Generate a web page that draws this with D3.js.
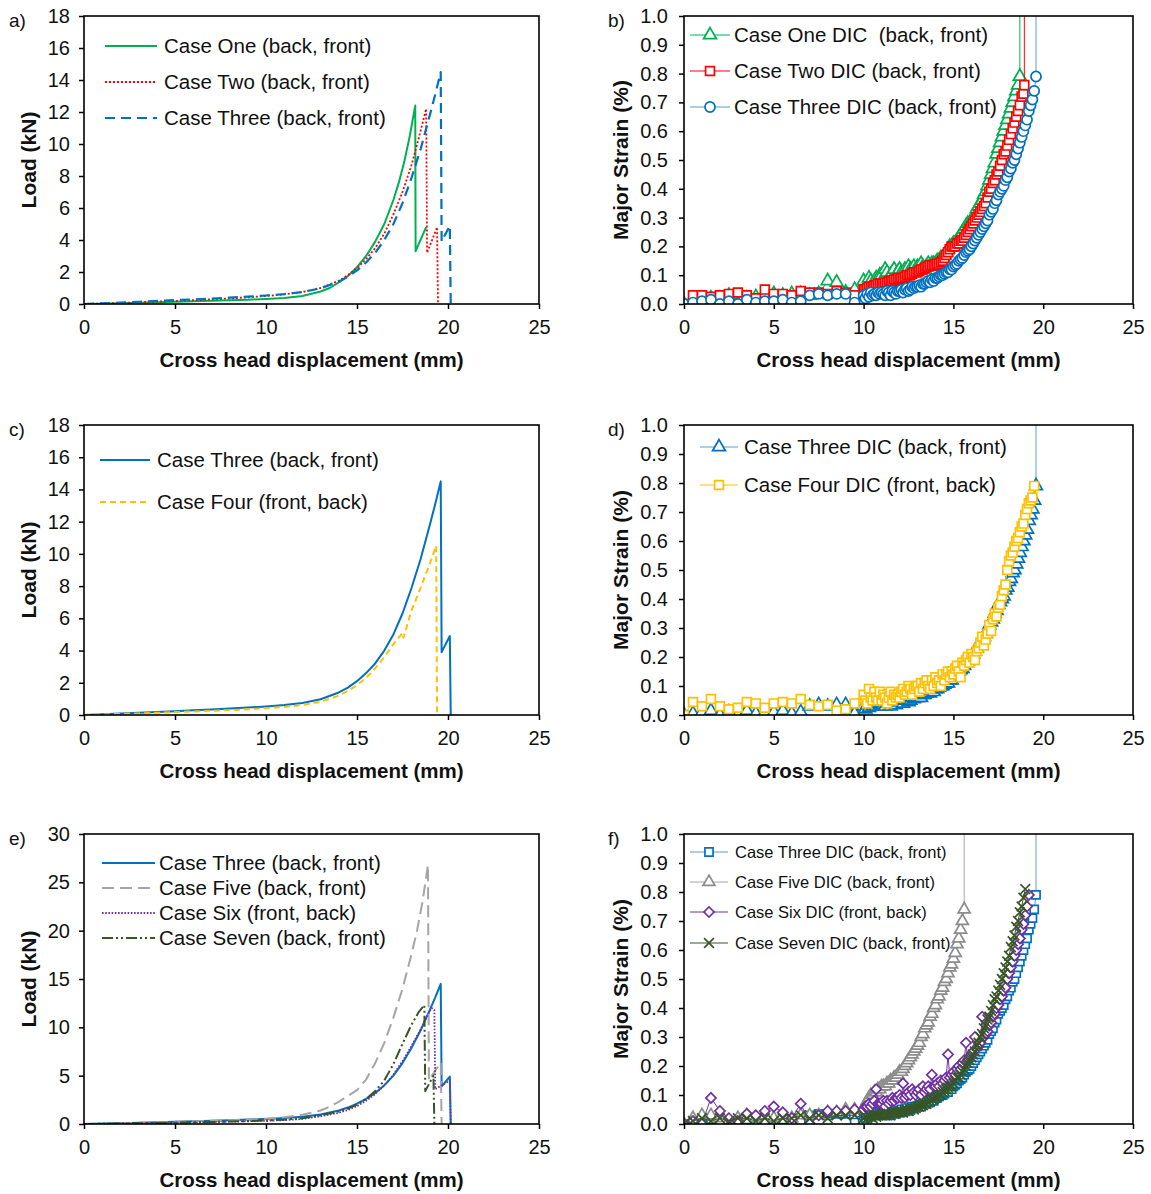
<!DOCTYPE html>
<html>
<head>
<meta charset="utf-8">
<script src="https://cdn.jsdelivr.net/npm/d3@7"></script>
<style>
  body { margin: 0; background: #fff; }
  svg text { font-family: "Liberation Sans", Arial, sans-serif; fill: #111; white-space: pre; }
</style>
</head>
<body>
<svg id="fig" width="1151" height="1194"></svg>
<script>
// ---------- axis ticks ----------
const dispTicks = [0, 5, 10, 15, 20, 25];
const loadTicksSmall = [0, 2, 4, 6, 8, 10, 12, 14, 16, 18];
const loadTicksLarge = [0, 5, 10, 15, 20, 25, 30];
const strainTicks = [0, 0.1, 0.2, 0.3, 0.4, 0.5, 0.6, 0.7, 0.8, 0.9, 1.0];

// ---------- load vs cross head displacement (kN vs mm) ----------
const caseOneLoadX = [0,1,2,3,4,5,6,7,8,9,10,11,12,13,13.5,14,14.5,15,15.5,16,16.5,17,17.3,17.6,17.9,18.2,18.22,18.8];
const caseOneLoadY = [0,0.02,0.05,0.08,0.11,0.14,0.17,0.2,0.23,0.27,0.32,0.38,0.5,0.78,1.0,1.35,1.75,2.3,3.0,3.9,5.0,6.5,7.6,8.9,10.5,12.4,3.3,4.8];

const caseTwoLoadX = [0,1,2,3,4,5,6,7,8,9,10,11,12,13,14,14.5,15,15.5,16,16.5,17,17.5,18,18.4,18.8,18.85,19.4,19.45];
const caseTwoLoadY = [0,0.03,0.07,0.11,0.15,0.19,0.24,0.29,0.35,0.42,0.5,0.6,0.75,1.0,1.45,1.8,2.25,2.8,3.5,4.4,5.6,7.0,8.7,10.4,12.2,3.2,4.8,0];

const caseThreeLoadX = [0,1,2,3,4,5,6,7,8,9,10,11,12,13,14,14.5,15,15.5,16,16.5,17,17.5,18,18.5,19,19.3,19.6,19.65,20.1,20.15];
const caseThreeLoadY = [0,0.04,0.09,0.14,0.19,0.24,0.29,0.34,0.4,0.46,0.53,0.62,0.75,0.98,1.4,1.7,2.1,2.6,3.2,4.0,5.0,6.3,7.9,9.7,11.8,13.1,14.5,3.9,4.9,0];

const caseFourLoadX = [0,1,2,3,4,5,6,7,8,9,10,11,12,13,14,14.5,15,15.5,16,16.5,17,17.5,17.55,18,18.5,19,19.35,19.4];
const caseFourLoadY = [0,0.03,0.07,0.1,0.14,0.18,0.22,0.26,0.3,0.35,0.42,0.5,0.62,0.82,1.2,1.5,1.85,2.3,2.9,3.6,4.4,5.1,4.8,6.5,7.9,9.4,10.5,0];

const caseFiveLoadX = [0,1,2,3,4,5,6,7,8,9,10,11,12,13,13.5,14,14.5,15,15.5,16,16.5,17,17.5,18,18.3,18.6,18.9,18.95,19.6,19.65];
const caseFiveLoadY = [0,0.04,0.08,0.13,0.18,0.23,0.28,0.33,0.39,0.45,0.55,0.7,0.95,1.4,1.8,2.3,2.9,3.5,4.6,6.3,8.4,11.0,14.0,17.6,20.0,23.0,26.8,4.5,6.4,0];

const caseSixLoadX = [0,1,2,3,4,5,6,7,8,9,10,11,12,13,14,14.5,15,15.5,16,16.5,17,17.5,18,18.5,18.8,19.1,19.25,19.3,20.1,20.15];
const caseSixLoadY = [0,0.02,0.05,0.08,0.11,0.14,0.17,0.2,0.24,0.28,0.33,0.4,0.52,0.8,1.15,1.45,1.85,2.4,3.1,4.0,5.1,6.5,8.1,9.8,11.0,12.0,11.8,3.6,4.5,0];

const caseSevenLoadX = [0,1,2,3,4,5,6,7,8,9,10,11,12,13,14,14.5,15,15.5,16,16.5,17,17.5,18,18.4,18.7,18.75,19.2,19.25];
const caseSevenLoadY = [0,0.02,0.05,0.08,0.11,0.14,0.17,0.21,0.25,0.3,0.36,0.45,0.6,0.9,1.3,1.6,2.0,2.6,3.4,4.5,6.2,8.3,10.3,11.6,12.3,3.4,5.0,0];

// ---------- DIC major strain (%) vs cross head displacement (mm) ----------
// capture positions: every 0.5 mm up to 9.5 mm, then every 0.1 mm
const dicGridX = [0,0.5,1,1.5,2,2.5,3,3.5,4,4.5,5,5.5,6,6.5,7,7.5,8,8.5,9,9.5,
  10,10.1,10.2,10.3,10.4,10.5,10.6,10.7,10.8,10.9,
  11,11.1,11.2,11.3,11.4,11.5,11.6,11.7,11.8,11.9,
  12,12.1,12.2,12.3,12.4,12.5,12.6,12.7,12.8,12.9,
  13,13.1,13.2,13.3,13.4,13.5,13.6,13.7,13.8,13.9,
  14,14.1,14.2,14.3,14.4,14.5,14.6,14.7,14.8,14.9,
  15,15.1,15.2,15.3,15.4,15.5,15.6,15.7,15.8,15.9,
  16,16.1,16.2,16.3,16.4,16.5,16.6,16.7,16.8,16.9,
  17,17.1,17.2,17.3,17.4,17.5,17.6,17.7,17.8,17.9,
  18,18.1,18.2,18.3,18.4,18.5,18.6,18.7,18.8,18.9,
  19,19.1,19.2,19.3,19.4,19.5,19.6];

const caseOneDicY = [0,0.005,0.01,0.02,0.02,0.03,0.0,0.02,0.025,0.03,0.035,0.03,0.035,0.035,0.03,0.035,0.08,0.075,0.04,0.05,
  0.08,0.06,0.07,0.09,0.08,0.07,0.08,0.09,0.08,0.10,
  0.10,0.09,0.12,0.11,0.09,0.10,0.11,0.12,0.10,0.11,
  0.12,0.11,0.10,0.12,0.11,0.13,0.12,0.12,0.13,0.12,
  0.13,0.12,0.14,0.13,0.12,0.13,0.14,0.13,0.14,0.14,
  0.14,0.15,0.15,0.16,0.16,0.17,0.18,0.19,0.20,0.20,
  0.21,0.21,0.22,0.23,0.24,0.25,0.26,0.27,0.28,0.28,
  0.29,0.30,0.31,0.33,0.34,0.35,0.36,0.38,0.39,0.41,
  0.43,0.45,0.47,0.49,0.52,0.54,0.56,0.58,0.60,0.62,
  0.64,0.66,0.68,0.70,0.72,0.74,0.76];
const caseOneDicEndX = [18.7, 18.7];
const caseOneDicEndY = [0.79, 1.2];

const caseTwoDicY = [0,0.03,0.03,0.025,0.03,0.035,0.04,0.03,0.02,0.05,0.035,0.035,0.03,0.045,0.04,0.04,0.035,0.045,0.04,0.03,
  0.05,0.05,0.055,0.06,0.06,0.06,0.065,0.065,0.07,0.07,
  0.07,0.07,0.075,0.075,0.08,0.08,0.08,0.085,0.085,0.09,
  0.085,0.09,0.09,0.095,0.10,0.10,0.10,0.105,0.11,0.11,
  0.11,0.115,0.12,0.12,0.125,0.13,0.13,0.135,0.135,0.135,
  0.135,0.14,0.14,0.145,0.15,0.16,0.17,0.18,0.19,0.20,
  0.20,0.20,0.21,0.21,0.22,0.22,0.23,0.24,0.25,0.26,
  0.27,0.28,0.29,0.30,0.31,0.32,0.33,0.34,0.35,0.37,
  0.39,0.40,0.42,0.43,0.45,0.46,0.48,0.50,0.52,0.53,
  0.55,0.57,0.59,0.61,0.63,0.65,0.67,0.69,0.72,0.73];
const caseTwoDicEndX = [18.95, 18.95];
const caseTwoDicEndY = [0.76, 1.2];

const caseThreeDicY = [0,0.005,0.01,0.015,0.0,0.01,0.0,0.015,0.005,0.01,0.01,0.015,0.005,0.01,0.03,0.035,0.03,0.035,0.035,0.005,
  0.03,0.02,0.035,0.025,0.04,0.03,0.035,0.03,0.04,0.035,
  0.04,0.035,0.03,0.045,0.04,0.03,0.045,0.04,0.035,0.045,
  0.045,0.05,0.04,0.05,0.055,0.045,0.05,0.06,0.055,0.06,
  0.06,0.065,0.06,0.07,0.07,0.075,0.08,0.075,0.085,0.08,
  0.09,0.09,0.095,0.10,0.10,0.105,0.11,0.11,0.12,0.12,
  0.13,0.135,0.14,0.15,0.155,0.16,0.17,0.18,0.185,0.19,
  0.20,0.21,0.22,0.23,0.24,0.25,0.26,0.27,0.28,0.29,
  0.31,0.32,0.33,0.35,0.36,0.38,0.39,0.40,0.41,0.43,
  0.44,0.46,0.47,0.49,0.50,0.52,0.54,0.56,0.58,0.60,
  0.62,0.64,0.67,0.69,0.71,0.74,0.79];
const caseThreeDicEndX = [19.6];
const caseThreeDicEndY = [1.2];

const caseFourDicY = [0,0.045,0.03,0.055,0.03,0.02,0.025,0.045,0.04,0.025,0.04,0.045,0.04,0.055,0.035,0.03,0.035,0.015,0.02,0.04,
  0.07,0.05,0.04,0.09,0.06,0.05,0.08,0.06,0.05,0.08,
  0.05,0.07,0.06,0.04,0.06,0.08,0.05,0.07,0.06,0.07,
  0.06,0.08,0.09,0.07,0.08,0.10,0.09,0.07,0.09,0.10,
  0.10,0.08,0.11,0.09,0.11,0.12,0.10,0.09,0.12,0.10,
  0.13,0.11,0.12,0.10,0.14,0.12,0.14,0.15,0.13,0.15,
  0.14,0.16,0.17,0.15,0.13,0.18,0.17,0.19,0.20,0.18,
  0.21,0.20,0.19,0.22,0.23,0.25,0.27,0.24,0.26,0.28,
  0.31,0.29,0.33,0.35,0.34,0.37,0.38,0.41,0.43,0.45,
  0.50,0.53,0.55,0.56,0.58,0.60,0.61,0.63,0.65,0.66,
  0.69,0.71,0.73,0.74,0.75];
const caseFourDicEndX = [19.5];
const caseFourDicEndY = [0.79];

const caseFiveDicY = [0,0.02,0.03,0.03,0.02,0.01,0.02,0.03,0.02,0.03,0.02,0.03,0.02,0.03,0.03,0.03,0.04,0.04,0.05,0.05,
  0.05,0.06,0.08,0.09,0.10,0.10,0.11,0.11,0.12,0.12,
  0.13,0.13,0.13,0.14,0.14,0.15,0.15,0.16,0.16,0.17,
  0.18,0.18,0.19,0.20,0.21,0.22,0.23,0.24,0.25,0.26,
  0.27,0.28,0.30,0.31,0.33,0.34,0.35,0.37,0.38,0.40,
  0.41,0.43,0.44,0.46,0.47,0.49,0.50,0.52,0.54,0.55,
  0.57,0.59,0.62,0.64,0.67,0.70,0.74];
const caseFiveDicEndX = [15.6];
const caseFiveDicEndY = [1.2];

const caseSixDicY = [0,0.01,0.0,0.09,0.045,0.02,0.01,0.035,0.03,0.045,0.06,0.04,0.02,0.07,0.0,0.03,0.045,0.045,0.045,0.05,
  0.05,0.06,0.06,0.07,0.06,0.07,0.08,0.12,0.07,0.07,
  0.07,0.08,0.06,0.08,0.07,0.08,0.09,0.08,0.09,0.09,
  0.10,0.09,0.14,0.09,0.10,0.11,0.10,0.12,0.11,0.10,
  0.11,0.12,0.10,0.13,0.11,0.12,0.13,0.12,0.17,0.13,
  0.13,0.14,0.13,0.15,0.14,0.15,0.16,0.24,0.16,0.17,
  0.18,0.17,0.19,0.20,0.19,0.21,0.22,0.28,0.22,0.23,
  0.24,0.25,0.30,0.26,0.27,0.28,0.37,0.30,0.31,0.32,
  0.34,0.35,0.37,0.38,0.40,0.41,0.43,0.44,0.46,0.47,
  0.50,0.52,0.54,0.56,0.58,0.60,0.62,0.64,0.67,0.69,
  0.72,0.75,0.79];
const caseSixDicEndX = [];
const caseSixDicEndY = [];

const caseSevenDicY = [0,0.01,0.02,0.01,0.02,0.01,0.02,0.02,0.01,0.02,0.01,0.02,0.02,0.03,0.02,0.03,0.02,0.03,0.03,0.03,
  0.02,0.025,0.02,0.03,0.025,0.02,0.03,0.025,0.03,0.03,
  0.03,0.035,0.03,0.03,0.035,0.03,0.04,0.035,0.04,0.04,
  0.04,0.045,0.04,0.045,0.05,0.045,0.05,0.055,0.05,0.055,
  0.06,0.06,0.065,0.065,0.07,0.07,0.075,0.08,0.085,0.085,
  0.09,0.095,0.10,0.10,0.11,0.115,0.12,0.125,0.13,0.13,
  0.14,0.15,0.16,0.16,0.17,0.18,0.19,0.20,0.21,0.22,
  0.23,0.24,0.25,0.27,0.28,0.30,0.31,0.33,0.34,0.36,
  0.37,0.39,0.41,0.43,0.44,0.46,0.48,0.50,0.52,0.54,
  0.56,0.58,0.61,0.63,0.65,0.68,0.70,0.73,0.75,0.78,
  0.81];
const caseSevenDicEndX = [];
const caseSevenDicEndY = [];

// ---------- colours ----------
const GREEN = '#00B050', RED = '#FF0000', BLUE = '#0070C0', LIGHTBLUE = '#5B9BD5',
      GOLD = '#FFC000', GREY = '#A5A5A5', PURPLE = '#7030A0', OLIVE = '#375623';

// ---------- helpers ----------
const svg = d3.select('#fig');
const FONT = '"Liberation Sans", Arial, sans-serif';
const pairs = (xs, ys) => xs.map((v, i) => [v, ys[i]]);
const dicPairs = (ys, endX, endY) => pairs(dicGridX.slice(0, ys.length), ys).concat(pairs(endX, endY));

const triangle = { type: d3.symbolTriangle, size: 72 };
const square = { type: d3.symbolSquare, size: 78 };
const circle = { type: d3.symbolCircle, size: 80 };
const triangleSmall = { type: d3.symbolTriangle, size: 62 };
const squareSmall = { type: d3.symbolSquare, size: 66 };
const diamond = { type: d3.symbolSquare, size: 52, rotate: 45 };
const cross = { type: d3.symbolTimes || d3.symbolCross, size: 64, open: true };

function drawPanel(p) {
  const x = d3.scaleLinear().domain([0, 25]).range([p.left, p.right]);
  const y = d3.scaleLinear().domain([0, p.yMax]).range([p.bottom, p.top]);

  const clipId = 'clip-' + p.tag;
  svg.append('clipPath').attr('id', clipId).append('rect')
    .attr('x', p.left).attr('y', p.top)
    .attr('width', p.right - p.left).attr('height', p.bottom - p.top);

  const plot = svg.append('g').attr('clip-path', `url(#${clipId})`);
  const line = d3.line().x(d => x(d[0])).y(d => y(d[1]));

  p.series.forEach(s => {
    plot.append('path').datum(s.data)
      .attr('d', line).attr('fill', 'none')
      .attr('stroke', s.lineColor || s.color).attr('stroke-width', s.width)
      .attr('stroke-dasharray', s.dash || null)
      .attr('stroke-linejoin', 'round');
    if (s.marker) {
      const m = s.marker;
      plot.append('g').selectAll('path')
        .data(s.data.filter(d => d[1] <= p.yMax)).join('path')
        .attr('transform', d => `translate(${x(d[0])},${y(d[1])})` + (m.rotate ? ` rotate(${m.rotate})` : ''))
        .attr('d', d3.symbol(m.type, m.size)())
        .attr('fill', m.open ? 'none' : '#fff')
        .attr('stroke', s.color).attr('stroke-width', 1.7);
    }
  });

  // axes
  const xAxis = svg.append('g').attr('transform', `translate(0,${p.bottom})`)
    .call(d3.axisBottom(x).tickValues(dispTicks).tickSize(5).tickSizeOuter(0).tickPadding(11).tickFormat(d3.format('d')));
  const yAxis = svg.append('g').attr('transform', `translate(${p.left},0)`)
    .call(d3.axisLeft(y).tickValues(p.yTicks).tickSize(5).tickSizeOuter(0).tickPadding(p.yPad).tickFormat(p.yFormat));
  [xAxis, yAxis].forEach(a => {
    a.select('.domain').remove();
    a.selectAll('.tick line').attr('stroke', '#000').attr('stroke-width', 1.5);
    a.selectAll('.tick text').attr('font-size', 20).attr('fill', '#111').style('font-family', FONT);
  });

  svg.append('rect').attr('x', p.left).attr('y', p.top)
    .attr('width', p.right - p.left).attr('height', p.bottom - p.top)
    .attr('fill', 'none').attr('stroke', '#000').attr('stroke-width', 1.6);

  // titles
  svg.append('text').attr('x', (p.left + p.right) / 2).attr('y', p.bottom + 63)
    .attr('text-anchor', 'middle').attr('font-size', 20.5).attr('font-weight', 'bold')
    .text('Cross head displacement (mm)');
  svg.append('text')
    .attr('transform', `translate(${p.yTitleX},${(p.top + p.bottom) / 2}) rotate(-90)`)
    .attr('text-anchor', 'middle').attr('font-size', 21).attr('font-weight', 'bold')
    .text(p.yTitle);
  svg.append('text').attr('x', p.letterX).attr('y', p.top + 11)
    .attr('font-size', 19).text(p.letter);

  // legend
  const lg = p.legend;
  p.series.forEach((s, i) => {
    const ly = p.top + lg.rows[i];
    svg.append('line').attr('x1', lg.x0).attr('x2', lg.x1).attr('y1', ly).attr('y2', ly)
      .attr('stroke', s.lineColor || s.color).attr('stroke-width', s.legendWidth || s.width)
      .attr('stroke-dasharray', s.dash || null);
    if (s.marker) {
      const m = s.marker;
      svg.append('path')
        .attr('transform', `translate(${(lg.x0 + lg.x1) / 2},${ly})` + (m.rotate ? ` rotate(${m.rotate})` : ''))
        .attr('d', d3.symbol(m.type, m.size)())
        .attr('fill', m.open ? 'none' : '#fff')
        .attr('stroke', s.color).attr('stroke-width', 1.7);
    }
    svg.append('text').attr('x', lg.tx).attr('y', ly).attr('dy', '0.35em')
      .attr('font-size', lg.fontSize).text(s.name);
  });
}

const LEFT = { left: 84, right: 539, yTitleX: 36, letterX: 9, yPad: 9 };
const RIGHT = { left: 684, right: 1133, yTitleX: 628, letterX: 608, yPad: 11 };
const ROWS = [{ top: 16, bottom: 304 }, { top: 425, bottom: 715 }, { top: 834, bottom: 1124 }];
const intFmt = d3.format('d');
const strainFmt = d3.format('.1f');

// a) load, cases one to three
drawPanel({ ...LEFT, ...ROWS[0], tag: 'a', letter: 'a)', yMax: 18, yTicks: loadTicksSmall, yFormat: intFmt,
  yTitle: 'Load (kN)',
  legend: { x0: 105, x1: 157, tx: 164, rows: [30, 66, 102], fontSize: 20.5 },
  series: [
    { name: 'Case One (back, front)', data: pairs(caseOneLoadX, caseOneLoadY), color: GREEN, width: 2 },
    { name: 'Case Two (back, front)', data: pairs(caseTwoLoadX, caseTwoLoadY), color: RED, width: 1.8, dash: '2,2' },
    { name: 'Case Three (back, front)', data: pairs(caseThreeLoadX, caseThreeLoadY), color: BLUE, width: 2.2, dash: '10,6' }
  ] });

// b) DIC strain, cases one to three
drawPanel({ ...RIGHT, ...ROWS[0], tag: 'b', letter: 'b)', yMax: 1, yTicks: strainTicks, yFormat: strainFmt,
  yTitle: 'Major Strain (%)',
  legend: { x0: 690, x1: 730, tx: 734, rows: [19, 55, 91], fontSize: 20.5 },
  series: [
    { name: 'Case One DIC  (back, front)', data: dicPairs(caseOneDicY, caseOneDicEndX, caseOneDicEndY), color: GREEN, width: 1, marker: triangle },
    { name: 'Case Two DIC (back, front)', data: dicPairs(caseTwoDicY, caseTwoDicEndX, caseTwoDicEndY), color: RED, width: 1, marker: square },
    { name: 'Case Three DIC (back, front)', data: dicPairs(caseThreeDicY, caseThreeDicEndX, caseThreeDicEndY), color: BLUE, lineColor: LIGHTBLUE, width: 1, marker: circle }
  ] });

// c) load, cases three and four
drawPanel({ ...LEFT, ...ROWS[1], tag: 'c', letter: 'c)', yMax: 18, yTicks: loadTicksSmall, yFormat: intFmt,
  yTitle: 'Load (kN)',
  legend: { x0: 100, x1: 150, tx: 157, rows: [35, 77], fontSize: 20.5 },
  series: [
    { name: 'Case Three (back, front)', data: pairs(caseThreeLoadX, caseThreeLoadY), color: BLUE, width: 2 },
    { name: 'Case Four (front, back)', data: pairs(caseFourLoadX, caseFourLoadY), color: GOLD, width: 2, dash: '6,4' }
  ] });

// d) DIC strain, cases three and four
drawPanel({ ...RIGHT, ...ROWS[1], tag: 'd', letter: 'd)', yMax: 1, yTicks: strainTicks, yFormat: strainFmt,
  yTitle: 'Major Strain (%)',
  legend: { x0: 700, x1: 738, tx: 744, rows: [22, 60], fontSize: 20.5 },
  series: [
    { name: 'Case Three DIC (back, front)', data: dicPairs(caseThreeDicY, caseThreeDicEndX, caseThreeDicEndY), color: BLUE, lineColor: LIGHTBLUE, width: 1, marker: triangle },
    { name: 'Case Four DIC (front, back)', data: dicPairs(caseFourDicY, caseFourDicEndX, caseFourDicEndY), color: GOLD, width: 1, marker: square }
  ] });

// e) load, cases three, five, six and seven
drawPanel({ ...LEFT, ...ROWS[2], tag: 'e', letter: 'e)', yMax: 30, yTicks: loadTicksLarge, yFormat: intFmt,
  yTitle: 'Load (kN)',
  legend: { x0: 102, x1: 155, tx: 159, rows: [29, 54, 79, 104], fontSize: 20.5 },
  series: [
    { name: 'Case Three (back, front)', data: pairs(caseThreeLoadX, caseThreeLoadY), color: BLUE, width: 2 },
    { name: 'Case Five (back, front)', data: pairs(caseFiveLoadX, caseFiveLoadY), color: GREY, width: 2, dash: '12,6' },
    { name: 'Case Six (front, back)', data: pairs(caseSixLoadX, caseSixLoadY), color: PURPLE, width: 1.8, dash: '1.6,1.6' },
    { name: 'Case Seven (back, front)', data: pairs(caseSevenLoadX, caseSevenLoadY), color: OLIVE, width: 2, dash: '11,3,2,3,2,3' }
  ] });

// f) DIC strain, cases three, five, six and seven
drawPanel({ ...RIGHT, ...ROWS[2], tag: 'f', letter: 'f)', yMax: 1, yTicks: strainTicks, yFormat: strainFmt,
  yTitle: 'Major Strain (%)',
  legend: { x0: 690, x1: 728, tx: 735, rows: [18, 48, 78, 109], fontSize: 16.5 },
  series: [
    { name: 'Case Three DIC (back, front)', data: dicPairs(caseThreeDicY, caseThreeDicEndX, caseThreeDicEndY), color: BLUE, lineColor: LIGHTBLUE, width: 1, marker: squareSmall },
    { name: 'Case Five DIC (back, front)', data: dicPairs(caseFiveDicY, caseFiveDicEndX, caseFiveDicEndY), color: '#8C8C8C', lineColor: GREY, width: 1, marker: triangleSmall },
    { name: 'Case Six DIC (front, back)', data: dicPairs(caseSixDicY, caseSixDicEndX, caseSixDicEndY), color: PURPLE, width: 1, marker: diamond },
    { name: 'Case Seven DIC (back, front)', data: dicPairs(caseSevenDicY, caseSevenDicEndX, caseSevenDicEndY), color: OLIVE, width: 1, marker: cross }
  ] });
</script>
</body>
</html>
